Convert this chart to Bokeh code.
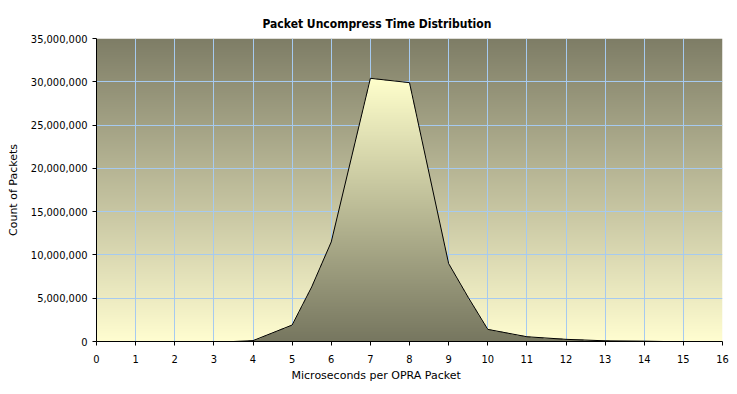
import numpy as np
from bokeh.plotting import figure
from bokeh.models import Range1d, NumeralTickFormatter, FixedTicker, Title
from bokeh.embed import file_html
from bokeh.resources import INLINE

# ---- data ----
us = [3.5, 4, 5, 5.5, 6, 7, 8, 9, 9.5, 10, 11, 12, 13, 14, 14.5]
packets = [0, 100000, 1900000, 6300000, 11500000, 30400000, 29900000,
           9000000, 5100000, 1400000, 550000, 250000, 80000, 40000, 0]
x_ticks = list(range(0, 17))
y_ticks = [0, 5000000, 10000000, 15000000, 20000000, 25000000, 30000000, 35000000]

title_text = "Packet Uncompress Time Distribution"
x_label = "Microseconds per OPRA Packet"
y_label = "Count of Packets"

X_MAX = x_ticks[-1]
Y_MAX = y_ticks[-1]

BG_TOP = np.array([0x7e, 0x7d, 0x66], float)
BG_BOT = np.array([0xff, 0xfd, 0xd0], float)
AREA_TOP = np.array([0xff, 0xff, 0xcc], float)
AREA_BOT = np.array([0x76, 0x76, 0x5f], float)

FONT = "DejaVu Sans Condensed"
FONT2 = "DejaVu Sans"

p = figure(frame_width=626, frame_height=303, output_backend="svg", toolbar_location=None,
           x_range=Range1d(0, X_MAX), y_range=Range1d(0, Y_MAX),
           min_border_left=96, min_border_right=15, min_border_top=38, min_border_bottom=53)
p.background_fill_color = "white"
p.border_fill_color = "white"
p.outline_line_color = None

# background gradient (dark at top, light at bottom)
H = 300
bg = np.empty((H, 2), dtype=np.uint32)
v = bg.view(dtype=np.uint8).reshape((H, 2, 4))
t = np.linspace(0, 1, H)[:, None]
col = BG_BOT[None, :] * (1 - t) + BG_TOP[None, :] * t
for k in range(3):
    v[:, :, k] = np.round(col[:, k])[:, None]
v[:, :, 3] = 255
p.image_rgba(image=[bg], x=0, y=0, dw=X_MAX, dh=Y_MAX, level="image")

# area with gradient fill (light at top, dark at bottom)
W, HA = 1400, 700
xc = (np.arange(W) + 0.5) / W * X_MAX
yc = (np.arange(HA) + 0.5) / HA * Y_MAX
top = np.interp(xc, us, packets, left=0, right=0)
inside = yc[:, None] <= top[None, :]
ta = np.clip(yc / max(packets), 0, 1)[:, None]
acol = AREA_BOT[None, :] * (1 - ta) + AREA_TOP[None, :] * ta
area = np.empty((HA, W), dtype=np.uint32)
va = area.view(dtype=np.uint8).reshape((HA, W, 4))
for k in range(3):
    va[:, :, k] = np.round(acol[:, k])[:, None]
va[:, :, 3] = np.where(inside, 255, 0)
p.image_rgba(image=[area], x=0, y=0, dw=X_MAX, dh=Y_MAX)

p.line(us, packets, line_color="black", line_width=1)

# grid
p.xgrid.ticker = FixedTicker(ticks=x_ticks)
p.ygrid.ticker = FixedTicker(ticks=y_ticks)
for g in (p.xgrid, p.ygrid):
    g.grid_line_color = "#a6caf0"
    g.grid_line_width = 1

# axes
p.xaxis.ticker = FixedTicker(ticks=x_ticks)
p.yaxis.ticker = FixedTicker(ticks=y_ticks)
p.yaxis.formatter = NumeralTickFormatter(format="0,0")
for ax in (p.xaxis, p.yaxis):
    ax.axis_line_color = "black"
    ax.axis_line_width = 1
    ax.major_tick_line_color = "black"
    ax.major_tick_in = 0
    ax.major_tick_out = 4
    ax.minor_tick_line_color = None
    ax.major_label_text_font = FONT
    ax.major_label_text_font_size = "11px"
    ax.major_label_text_color = "black"
p.xaxis.major_label_standoff = 9
p.yaxis.major_label_standoff = 5
p.yaxis.axis_label = y_label
p.yaxis.axis_label_text_font = FONT2
p.yaxis.axis_label_text_font_size = "11px"
p.yaxis.axis_label_text_font_style = "normal"
p.yaxis.axis_label_text_color = "black"
p.yaxis.axis_label_standoff = 8

# title
p.title.text = title_text
p.title.align = "left"
p.title.offset = 166
p.title.text_font = FONT
p.title.text_font_size = "12px"
p.title.text_font_style = "bold"
p.title.text_color = "black"
p.title.standoff = 15

# x-axis label (placed like Excel, left of frame centre)
xl = Title(text=x_label, align="left", offset=195, text_font=FONT2,
           text_font_size="11px", text_font_style="normal", text_color="black",
           standoff=3)
p.add_layout(xl, "below")

open("out.html", "w").write(file_html(p, INLINE))
